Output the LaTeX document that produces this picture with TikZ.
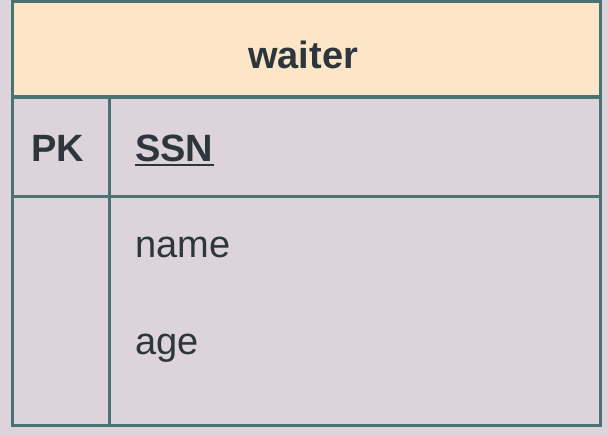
\documentclass[tikz,border=0pt]{standalone}
\usepackage{fontspec}
\setmainfont{Liberation Sans}
\definecolor{rimcol}{HTML}{4A7272}
\definecolor{headfill}{HTML}{FDE6C8}
\definecolor{bodyfill}{HTML}{DCD3DB}
\definecolor{inkcol}{HTML}{2C363C}
\begin{document}
\begin{tikzpicture}[
  x=1pt,y=-1pt,
  rim/.style={draw=rimcol,line width=3pt},
  field/.style={anchor=base west,inner sep=0pt,text=inkcol,font=\fontsize{38}{40}\selectfont},
  keyfield/.style={field,font=\fontsize{38}{40}\selectfont\bfseries}
]
% background and cells
\fill[bodyfill] (0,0) rectangle (608,436);
\fill[headfill] (12,2) rectangle (600,97);
\coordinate (tl) at (12,2);
\coordinate (br) at (600,425);
\coordinate (hl) at (12,97);
\coordinate (hr) at (600,97);
\coordinate (kl) at (12,196);
\coordinate (kr) at (600,196);
\coordinate (vt) at (109,97);
\coordinate (vb) at (109,425);
\draw[rim] (tl) rectangle (br);
\draw[rim] (hl) -- (hr);
\draw[rim] (kl) -- (kr);
\draw[rim] (vt) -- (vb);

% texts
\node[keyfield,anchor=base] (title) at (303,69) {waiter};
\node[keyfield] (pk) at (31,161) {PK};
\node[keyfield] (ssn) at (135,161) {SSN};
\draw[inkcol,line width=2.2pt] ([yshift=-4pt]ssn.base west) -- ([yshift=-4pt]ssn.base east);
\node[field] (name) at (135,257) {name};
\node[field] (age) at (135,354) {age};
\end{tikzpicture}
\end{document}
